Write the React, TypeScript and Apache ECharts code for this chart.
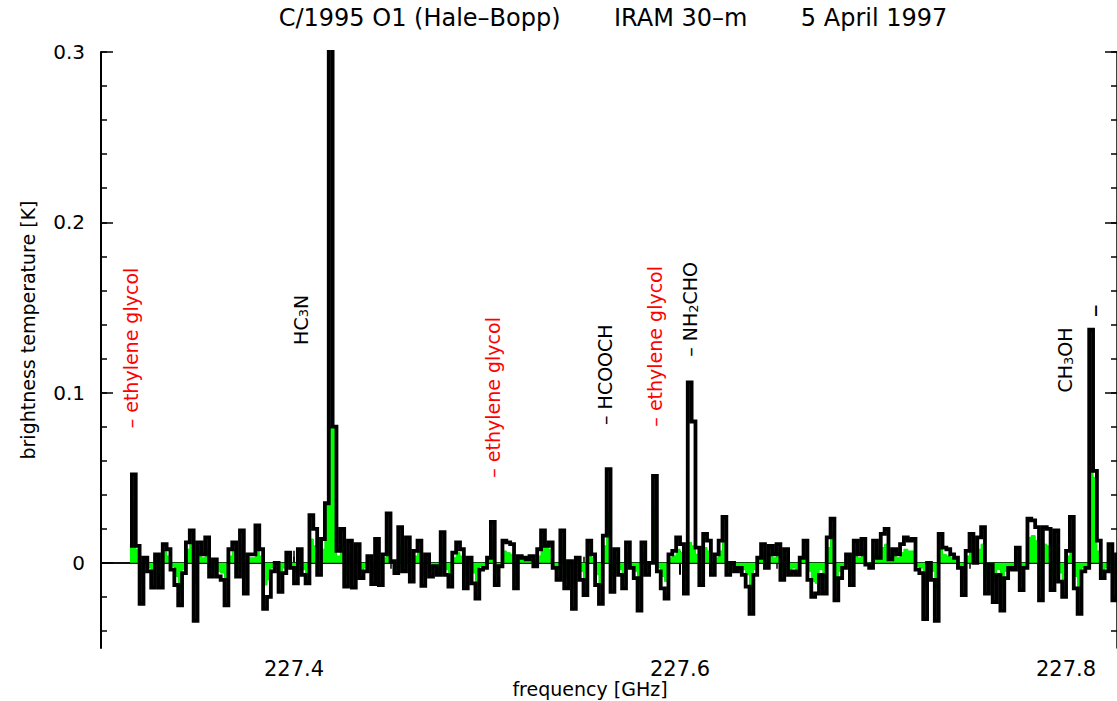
import React, { useEffect, useRef } from "react";
import * as echarts from "echarts";

// ---- data ----
const X_MIN = 227.3;
const X_MAX = 227.8264;
const Y_MIN = -0.05;
const Y_MAX = 0.3;
const START_FREQ = 227.315; // centre of first channel (GHz)
const CHANNEL = 0.002; // channel width (GHz)

const xLabelValues = [227.4, 227.6, 227.8];
const xMinorTicks = [227.3, 227.35, 227.4, 227.45, 227.5, 227.55, 227.6, 227.65, 227.7, 227.75, 227.8];
const xMajorTicks = [227.4, 227.6, 227.8];
const yLabelValues = [0, 0.1, 0.2, 0.3];
const yMinorTicks = [-0.04, -0.02, 0, 0.02, 0.04, 0.06, 0.08, 0.1, 0.12, 0.14, 0.16, 0.18, 0.2, 0.22, 0.24, 0.26, 0.28, 0.3];
const yMajorTicks = [0, 0.1, 0.2, 0.3];

// black: full-resolution spectrum (K)
const blackTb = [
  0.010, 0.052, 0.010, -0.024, 0.003, -0.005, -0.0145, 0.005, -0.0145, 0.011,
  0.008, -0.004, -0.013, -0.025, -0.006, 0.012, 0.019, -0.034, 0.012, 0.005,
  0.015, -0.008, 0.002, -0.008, -0.010, -0.025, 0.008, 0.012, -0.008, 0.019,
  -0.018, 0.005, 0.005, 0.022, 0.008, -0.027, -0.020, -0.005, 0.000, -0.017,
  -0.006, 0.006, -0.003, -0.012, 0.008, -0.007, -0.012, 0.028, 0.020, -0.007,
  0.014, 0.035, 0.450, 0.080, 0.007, 0.020, -0.014, 0.013, -0.0145, 0.011,
  -0.009, -0.005, 0.004, -0.0125, 0.014, -0.013, 0.005, 0.029, 0.001, -0.006,
  0.021, -0.005, 0.015, -0.011, 0.007, 0.013, -0.0135, 0.005, -0.008, -0.002,
  -0.007, 0.018, -0.007, -0.014, 0.006, 0.012, 0.008, -0.015, 0.003, -0.012,
  -0.021, -0.004, -0.003, 0.003, 0.024, -0.013, -0.002, 0.013, 0.012, 0.011,
  -0.015, 0.004, 0.003, 0.002, 0.004, -0.002, 0.008, 0.019, 0.010, 0.012,
  -0.003, -0.010, 0.019, -0.015, 0.001, -0.027, 0.003, -0.010, -0.019, 0.013,
  0.005, -0.013, -0.024, 0.016, 0.055, -0.017, 0.008, -0.007, -0.015, 0.012,
  -0.003, -0.009, -0.028, 0.012, -0.007, 0.000, 0.051, -0.005, -0.015, -0.021,
  0.005, 0.007, 0.015, 0.011, -0.018, 0.106, 0.083, 0.009, -0.013, 0.017,
  0.013, -0.007, 0.005, 0.013, 0.027, -0.007, 0.000, -0.005, -0.003, -0.007,
  -0.014, -0.030, -0.007, 0.003, 0.011, -0.003, 0.010, 0.005, 0.011, -0.010,
  0.008, -0.007, -0.005, -0.007, 0.003, 0.013, -0.010, -0.020, -0.018, -0.007,
  -0.018, 0.015, 0.026, -0.022, -0.009, -0.003, 0.005, -0.013, 0.013, 0.005,
  0.014, -0.001, -0.003, 0.013, 0.003, 0.017, 0.020, 0.002, 0.008, 0.005,
  0.011, 0.015, 0.013, 0.014, -0.004, -0.006, -0.033, 0.000, -0.010, -0.034,
  0.017, 0.009, 0.008, 0.005, 0.003, -0.003, -0.019, 0.007, 0.017, 0.000,
  0.015, 0.021, -0.018, -0.001, -0.023, -0.007, -0.028, -0.009, -0.003, -0.004,
  0.009, -0.016, -0.003, 0.026, 0.025, 0.021, -0.022, 0.021, 0.020, -0.016,
  0.019, -0.011, -0.020, 0.007, 0.027, -0.015, -0.030, -0.005, -0.003, 0.137,
  0.054, 0.013, -0.009, -0.005, 0.011, -0.022, 0.005,
];

// green: smoothed spectrum (K)
const greenTb = [
  0.010, 0.036, 0.008, -0.013, 0.002, -0.003, -0.006, 0.004, -0.008, 0.007,
  0.004, -0.002, -0.008, -0.019, -0.004, 0.008, 0.011, -0.012, 0.006, 0.003,
  0.008, -0.004, 0.001, -0.005, -0.006, -0.010, 0.004, 0.007, -0.004, 0.010,
  -0.008, 0.003, 0.003, 0.012, 0.004, -0.013, -0.010, -0.003, 0.000, -0.009,
  -0.003, 0.004, -0.002, -0.006, 0.005, -0.004, -0.006, 0.014, 0.010, -0.004,
  0.008, 0.035, 0.080, 0.080, 0.004, 0.010, -0.008, 0.007, -0.008, 0.006,
  -0.005, -0.003, 0.002, -0.007, 0.008, -0.006, 0.003, 0.015, 0.001, -0.003,
  0.010, -0.002, 0.008, -0.006, 0.004, 0.007, -0.007, 0.003, -0.004, -0.001,
  -0.004, 0.009, -0.004, -0.008, 0.003, 0.006, 0.004, -0.008, 0.002, -0.006,
  -0.011, -0.002, -0.002, 0.002, 0.014, -0.006, -0.001, 0.007, 0.006, 0.005,
  -0.008, 0.002, 0.002, 0.001, 0.002, -0.001, 0.004, 0.010, 0.010, 0.008,
  -0.002, -0.005, 0.009, -0.008, 0.001, -0.013, 0.002, -0.005, -0.010, 0.007,
  0.003, -0.007, -0.012, 0.010, 0.030, -0.008, 0.004, -0.004, -0.008, 0.006,
  -0.002, -0.005, -0.013, 0.006, -0.004, 0.000, 0.032, -0.003, -0.008, -0.011,
  0.003, 0.004, 0.008, 0.006, -0.009, 0.012, 0.010, 0.005, -0.007, 0.009,
  0.007, -0.004, 0.003, 0.007, 0.013, -0.004, 0.000, -0.003, -0.002, -0.004,
  -0.007, -0.015, -0.004, 0.002, 0.006, -0.002, 0.005, 0.003, 0.006, -0.005,
  0.004, -0.004, -0.003, -0.004, 0.002, 0.007, -0.005, -0.011, -0.012, -0.004,
  -0.009, 0.009, 0.018, -0.011, -0.005, -0.002, 0.003, -0.007, 0.007, 0.003,
  0.008, 0.000, -0.002, 0.007, 0.002, 0.009, 0.011, 0.001, 0.004, 0.003,
  0.006, 0.008, 0.007, 0.007, -0.002, -0.003, -0.015, 0.000, -0.005, -0.015,
  0.009, 0.005, 0.004, 0.003, 0.002, -0.002, -0.009, 0.004, 0.009, 0.000,
  0.008, 0.011, -0.009, -0.001, -0.011, -0.004, -0.014, -0.005, -0.002, -0.002,
  0.005, -0.008, -0.002, 0.015, 0.016, 0.013, -0.010, 0.011, 0.010, -0.008,
  0.010, -0.006, -0.010, 0.004, 0.014, -0.008, -0.014, -0.003, -0.002, 0.059,
  0.050, 0.007, -0.005, -0.003, 0.006, -0.011, 0.003,
];

// line identifications: text, frequency of label centre, y value of label start
const labelTexts = [
  "{m|– ethylene glycol}",
  "{m|HC}{s|3}{m|N}",
  "{m|– ethylene glycol}",
  "{m|– HCOOCH}",
  "{m|– ethylene glycol}",
  "{m|– NH}{s|2}{m|CHO}",
  "{m|CH}{s|3}{m|OH}",
  "{d|–}",
];
const labelFreqs = [227.3155, 227.4036, 227.5031, 227.5611, 227.5870, 227.6052, 227.7995, 227.8145];
const labelStartY = [0.079, 0.128, 0.050, 0.081, 0.080, 0.121, 0.100, 0.148];
const labelColors = ["#ff0000", "#000000", "#ff0000", "#000000", "#ff0000", "#000000", "#000000", "#000000"];

const TITLE = "C/1995 O1 (Hale–Bopp)       IRAM 30–m       5 April 1997";
const X_NAME = "frequency [GHz]";
const Y_NAME = "brightness temperature [K]";

const FONT = "DejaVu Sans";

export default function App() {
  const ref = useRef<HTMLDivElement>(null);

  useEffect(() => {
    if (!ref.current) return;
    const chart = echarts.init(ref.current, undefined, { renderer: "svg" });

    const freqs = blackTb.map((_, i) => START_FREQ + i * CHANNEL);
    const blackData = blackTb.map((v, i) => [freqs[i], v]);
    const greenData = greenTb.map((v, i) => [freqs[i], v]);

    const labelData = labelTexts.map((t, i) => {
      const c = labelColors[i];
      return {
        value: [labelFreqs[i], labelStartY[i]],
        label: {
          show: true,
          formatter: t,
          color: c,
          align: i === 7 ? "center" : "left",
          rich: {
            m: { fontFamily: FONT, fontSize: 19, lineHeight: 19, verticalAlign: "top", color: c },
            s: { fontFamily: FONT, fontSize: 13, lineHeight: 13, padding: [10, 0, 0, 0], verticalAlign: "bottom", color: c },
            d: { fontFamily: FONT, fontSize: 26, lineHeight: 26, color: c },
          },
        },
      };
    });

    const axisLine = { show: true, lineStyle: { color: "#000", width: 1.5 } };

    const xBase = (pos: "top" | "bottom") => ({
      type: "value" as const,
      position: pos,
      min: X_MIN,
      max: X_MAX,
      splitLine: { show: false },
    });
    const yBase = (pos: "left" | "right") => ({
      type: "value" as const,
      position: pos,
      min: Y_MIN,
      max: Y_MAX,
      splitLine: { show: false },
    });

    chart.setOption({
      animation: false,
      backgroundColor: "#ffffff",
      grid: { left: 101, top: 52, width: 1016, height: 596, containLabel: false },
      xAxis: [
        {
          ...xBase("bottom"),
          axisLine,
          axisTick: { show: true, inside: true, length: 6, customValues: xMinorTicks, lineStyle: { color: "#000", width: 1.5 } },
          axisLabel: {
            show: true,
            customValues: xLabelValues,
            formatter: (v: number) => v.toFixed(1),
            color: "#000",
            fontFamily: FONT,
            fontSize: 21,
            margin: 10,
          },
        },
        {
          ...xBase("bottom"),
          axisLine: { show: false },
          axisTick: { show: true, inside: true, length: 12, customValues: xMajorTicks, lineStyle: { color: "#000", width: 1.5 } },
          axisLabel: { show: false },
        },
        {
          ...xBase("top"),
          axisLine,
          axisTick: { show: true, inside: true, length: 6, customValues: xMinorTicks, lineStyle: { color: "#000", width: 1.5 } },
          axisLabel: { show: false },
        },
        {
          ...xBase("top"),
          axisLine: { show: false },
          axisTick: { show: true, inside: true, length: 12, customValues: xMajorTicks, lineStyle: { color: "#000", width: 2 } },
          axisLabel: { show: false },
        },
      ],
      yAxis: [
        {
          ...yBase("left"),
          axisLine: { show: true, lineStyle: { color: "#000", width: 2 } },
          axisTick: { show: true, inside: true, length: 6, customValues: yMinorTicks, lineStyle: { color: "#000", width: 1.5 } },
          axisLabel: {
            show: true,
            customValues: yLabelValues,
            formatter: (v: number) => (Math.abs(v) < 1e-9 ? "0" : v.toFixed(1)),
            color: "#000",
            fontFamily: FONT,
            fontSize: 20,
            margin: 16,
          },
        },
        {
          ...yBase("left"),
          axisLine: { show: false },
          axisTick: { show: true, inside: true, length: 12, customValues: yMajorTicks, lineStyle: { color: "#000", width: 1.5 } },
          axisLabel: { show: false },
        },
        {
          ...yBase("right"),
          axisLine,
          axisTick: { show: true, inside: true, length: 6, customValues: yMinorTicks, lineStyle: { color: "#000", width: 1.5 } },
          axisLabel: { show: false },
        },
        {
          ...yBase("right"),
          axisLine: { show: false },
          axisTick: { show: true, inside: true, length: 12, customValues: yMajorTicks, lineStyle: { color: "#000", width: 1.5 } },
          axisLabel: { show: false },
        },
      ],
      series: [
        {
          type: "line",
          name: "smoothed",
          data: greenData,
          step: "middle",
          symbol: "none",
          xAxisIndex: 0,
          yAxisIndex: 0,
          lineStyle: { color: "#00ee00", width: 1 },
          areaStyle: { color: "#00ff00", opacity: 1, origin: 0 },
          z: 2,
        },
        {
          type: "line",
          name: "spectrum",
          data: blackData,
          step: "middle",
          symbol: "none",
          xAxisIndex: 0,
          yAxisIndex: 0,
          lineStyle: { color: "#000", width: 3.8, join: "miter", cap: "butt" },
          z: 3,
        },
        {
          type: "scatter",
          name: "lines",
          data: labelData,
          symbolSize: 1,
          itemStyle: { color: "rgba(255,255,255,0)" },
          xAxisIndex: 0,
          yAxisIndex: 0,
          z: 4,
          label: {
            show: true,
            position: "inside",
            rotate: 90,
            verticalAlign: "middle",
            fontFamily: FONT,
            fontSize: 19,
            opacity: 1,
            textBorderWidth: 0,
            textShadowBlur: 0,
          },
        },
      ],
      graphic: [
        {
          type: "text",
          x: 613,
          y: 18,
          style: { text: TITLE, fontFamily: FONT, fontSize: 24, fill: "#000", align: "center", verticalAlign: "middle" },
        },
        {
          type: "text",
          x: 590,
          y: 689,
          style: { text: X_NAME, fontFamily: FONT, fontSize: 19, fill: "#000", align: "center", verticalAlign: "middle" },
        },
        {
          type: "text",
          x: 28,
          y: 330,
          rotation: Math.PI / 2,
          style: { text: Y_NAME, fontFamily: FONT, fontSize: 19, fill: "#000", align: "center", verticalAlign: "middle" },
        },
      ],
    });

    return () => chart.dispose();
  }, []);

  return (
    <div
      ref={ref}
      style={{ position: "fixed", left: 0, top: 0, width: 1117, height: 701, background: "#fff" }}
    />
  );
}
